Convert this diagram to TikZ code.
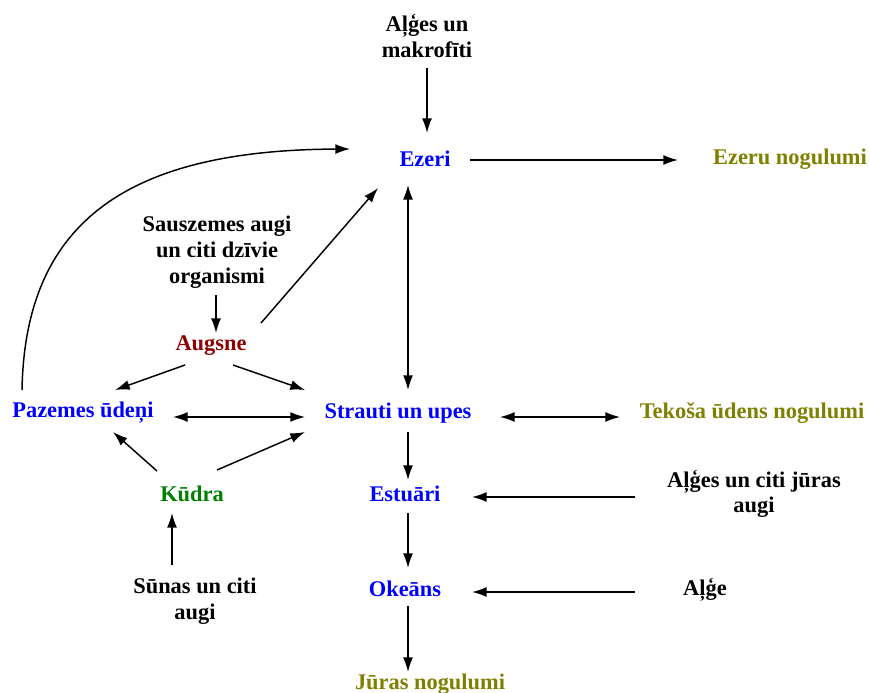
\documentclass[tikz,border=0pt]{standalone}
\usepackage{fontspec}
\setmainfont{Liberation Serif}
\usetikzlibrary{arrows.meta}
\definecolor{cblue}{RGB}{0,0,255}
\definecolor{cred}{RGB}{140,0,0}
\definecolor{cgreen}{RGB}{0,128,0}
\definecolor{colive}{RGB}{128,128,0}
\begin{document}
\begin{tikzpicture}[x=0.75pt,y=-0.75pt,
  lbl/.style={inner sep=0pt,align=center,font=\fontsize{16.8}{19.3}\selectfont\bfseries},
  arr/.style={line width=1.1pt,-{Latex[length=11pt,width=7.5pt]}},
  darr/.style={line width=1.1pt,{Latex[length=11pt,width=7.5pt]}-{Latex[length=11pt,width=7.5pt]}}]
\useasboundingbox (0,0) rectangle (870,692);
\node[lbl] (alges) at (427,36) {Aļģes un\\makrofīti};
\node[lbl,text=cblue] (ezeri) at (425,159) {Ezeri};
\node[lbl,text=colive] (ezeru) at (790,159) {Ezeru nogulumi};
\node[lbl] (sausz) at (217,252) {Sauszemes augi\\un citi dzīvie\\organismi};
\node[lbl,text=cred] (augsne) at (211,346) {Augsne};
\node[lbl,text=cblue] (pazemes) at (83,413) {Pazemes ūdeņi};
\node[lbl,text=cblue] (strauti) at (398,413) {Strauti un upes};
\node[lbl,text=colive] (tekosa) at (752,413) {Tekoša ūdens nogulumi};
\node[lbl,text=cgreen] (kudra) at (192,494) {Kūdra};
\node[lbl,text=cblue] (estuari) at (405,494) {Estuāri};
\node[lbl] (algesj) at (754,494) {Aļģes un citi jūras\\augi};
\node[lbl] (sunas) at (195,601) {Sūnas un citi\\augi};
\node[lbl,text=cblue] (okeans) at (405,589) {Okeāns};
\node[lbl] (alge) at (705,590) {Aļģe};
\node[lbl,text=colive] (juras) at (430,684) {Jūras nogulumi};

\draw[arr] ([shift={(0,32)}]alges.center) -- ([shift={(2,-26)}]ezeri.center);
\draw[arr] ([shift={(45,1)}]ezeri.center) -- ([shift={(-112,1)}]ezeru.center);
\draw[darr] ([shift={(-17,26)}]ezeri.center) -- ([shift={(10,-23)}]strauti.center);
\draw[arr] ([shift={(-61,-23)}]pazemes.center) .. controls (25,220) and (130,150) .. ([shift={(-75,-10)}]ezeri.center);
\draw[arr] ([shift={(-1,43)}]sausz.center) -- ([shift={(5,-13)}]augsne.center);
\draw[arr] ([shift={(50,-23)}]augsne.center) -- ([shift={(-47,29)}]ezeri.center);
\draw[arr] ([shift={(-26,19)}]augsne.center) -- ([shift={(32,-23)}]pazemes.center);
\draw[arr] ([shift={(22,19)}]augsne.center) -- ([shift={(-93,-23)}]strauti.center);
\draw[darr] ([shift={(90,4)}]pazemes.center) -- ([shift={(-93,4)}]strauti.center);
\draw[arr] ([shift={(-35,-23)}]kudra.center) -- ([shift={(30,19)}]pazemes.center);
\draw[arr] ([shift={(25,-24)}]kudra.center) -- ([shift={(-93,19)}]strauti.center);
\draw[arr] ([shift={(-23,-36)}]sunas.center) -- ([shift={(-20,19)}]kudra.center);
\draw[darr] ([shift={(102,4)}]strauti.center) -- ([shift={(-132,4)}]tekosa.center);
\draw[arr] ([shift={(10,19)}]strauti.center) -- ([shift={(3,-14)}]estuari.center);
\draw[arr] ([shift={(-119,3)}]algesj.center) -- ([shift={(67,3)}]estuari.center);
\draw[arr] ([shift={(3,19)}]estuari.center) -- ([shift={(3,-21)}]okeans.center);
\draw[arr] ([shift={(-70,2)}]alge.center) -- ([shift={(67,3)}]okeans.center);
\draw[arr] ([shift={(3,17)}]okeans.center) -- ([shift={(-22,-12)}]juras.center);
\end{tikzpicture}
\end{document}
